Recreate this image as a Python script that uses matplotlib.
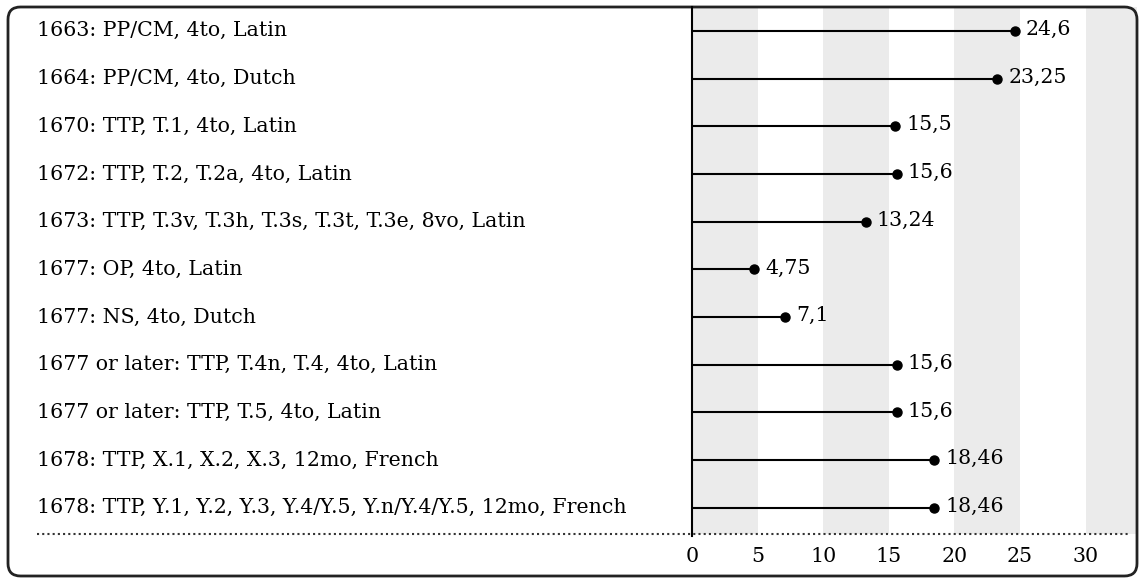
import matplotlib
matplotlib.use("Agg")
import matplotlib.pyplot as plt
from matplotlib.patches import FancyBboxPatch
from matplotlib.lines import Line2D
import matplotlib.transforms as mtransforms

labels = [
    "1663: PP/CM, 4to, Latin",
    "1664: PP/CM, 4to, Dutch",
    "1670: TTP, T.1, 4to, Latin",
    "1672: TTP, T.2, T.2a, 4to, Latin",
    "1673: TTP, T.3v, T.3h, T.3s, T.3t, T.3e, 8vo, Latin",
    "1677: OP, 4to, Latin",
    "1677: NS, 4to, Dutch",
    "1677 or later: TTP, T.4n, T.4, 4to, Latin",
    "1677 or later: TTP, T.5, 4to, Latin",
    "1678: TTP, X.1, X.2, X.3, 12mo, French",
    "1678: TTP, Y.1, Y.2, Y.3, Y.4/Y.5, Y.n/Y.4/Y.5, 12mo, French",
]
values = [24.6, 23.25, 15.5, 15.6, 13.24, 4.75, 7.1, 15.6, 15.6, 18.46, 18.46]
xticks = [0, 5, 10, 15, 20, 25, 30]

W, H = 1139, 578
fig = plt.figure(figsize=(W / 100, H / 100), dpi=100)
plt.rcParams['font.family'] = ['DejaVu Serif']
FS = 14.8
FONT = 'DejaVu Serif'

left, right = 692 / W, 1137 / W
top, bottom = 1 - 7 / H, 1 - 534 / H
ax = fig.add_axes([left, bottom, right - left, top - bottom])
xmax = (1137 - 692) / 13.12
ax.set_xlim(0, xmax)
n = len(labels)
ax.set_ylim(n - 1 + 0.55, -0.5)

# alternating bands
b = 0
while b < xmax:
    if (b // 5) % 2 == 0:
        ax.axvspan(b, b + 5, color='#ebebeb', lw=0, zorder=0)
    b += 5

for i, v in enumerate(values):
    ax.plot([0, v], [i, i], color='black', lw=1.5, zorder=2, solid_capstyle='butt')
    ax.plot([v], [i], 'o', color='black', ms=6.5, zorder=3)
    ax.annotate(str(v).replace('.', ','), (v, i), xytext=(8, 1), textcoords='offset points',
                va='center', ha='left', fontsize=FS, family=FONT)

for s in ax.spines.values():
    s.set_visible(False)
ax.set_yticks([])
ax.set_xticks([])

trans = mtransforms.blended_transform_factory(fig.transFigure, ax.transData)
for i, lab in enumerate(labels):
    ax.text(37 / W, i, lab, transform=trans, ha='left', va='center', fontsize=FS, family=FONT)

transx = mtransforms.blended_transform_factory(ax.transData, fig.transFigure)
for t in xticks:
    ax.text(t, 1 - 557 / H, str(t), transform=transx, ha='center', va='center',
            fontsize=FS, family=FONT, clip_on=False)

# vertical axis line
fig.add_artist(Line2D([692 / W, 692 / W], [1 - 7 / H, 1 - 536 / H], color='black', lw=1.5))
# dotted baseline
fig.add_artist(Line2D([37 / W, 1130 / W], [1 - 534 / H, 1 - 534 / H], color='#333333',
                      lw=1.5, linestyle=(0, (1, 1.5))))
# rounded border
box = FancyBboxPatch((8 / W, 2 / H), (1137 / W) - (8 / W), (1 - 7 / H) - (2 / H),
                     boxstyle='round,pad=0,rounding_size=0.011', transform=fig.transFigure,
                     fill=False, edgecolor='#222222', lw=2, mutation_aspect=W / H)
fig.add_artist(box)

fig.savefig('out.png', dpi=100)
